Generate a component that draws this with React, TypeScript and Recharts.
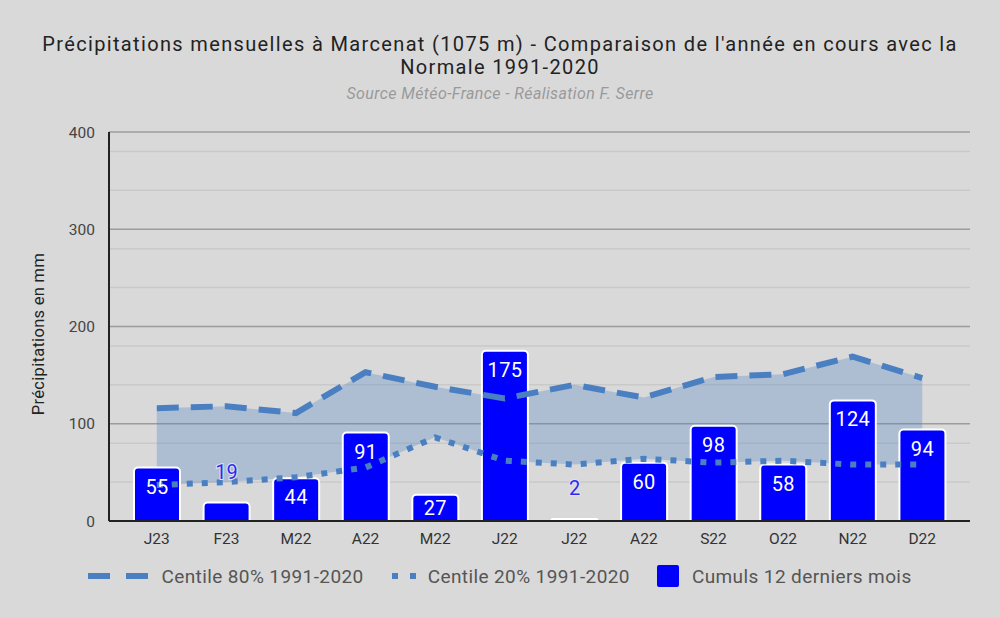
import {
  ComposedChart,
  Area,
  Bar,
  Line,
  XAxis,
  YAxis,
  CartesianGrid,
  LabelList,
} from "recharts";

const months = ["J23", "F23", "M22", "A22", "M22", "J22", "J22", "A22", "S22", "O22", "N22", "D22"];
const cumuls = [55, 19, 44, 91, 27, 175, 2, 60, 98, 58, 124, 94];
const centile80 = [116, 118, 111, 153, 138, 126, 140, 127, 148, 151, 169, 147];
const centile20 = [37, 40, 45, 55, 86, 62, 58, 64, 60, 62, 58, 58];
const majorTicks = [0, 100, 200, 300, 400];
const minorTicks = [20, 40, 60, 80, 120, 140, 160, 180, 220, 240, 260, 280, 320, 340, 360, 380];

const data = months.map((m, i) => ({
  month: m,
  cumul: cumuls[i],
  c80: centile80[i],
  c20: centile20[i],
  band: [centile20[i], centile80[i]],
}));

const FONT = "Roboto, 'Noto Sans', sans-serif";
const LINE_COLOR = "#4a80c2";

// white label inside the bar, or blue above it when the bar is too short
const BarLabel = (props: any) => {
  const { x, y, width, height, value } = props;
  const cx = x + width / 2;
  if (height > 22) {
    return (
      <text x={cx} y={y + Math.min(19, height / 2)} fill="#fff" fontSize={20} fontFamily={FONT} textAnchor="middle" dominantBaseline="central" letterSpacing={0.3}>
        {value}
      </text>
    );
  }
  return (
    <text
      x={cx}
      y={y - 31}
      fill="#2b2bf0"
      stroke="#e2e2ee"
      strokeWidth={2}
      paintOrder="stroke"
      fontSize={20}
      fontFamily={FONT}
      textAnchor="middle"
      dominantBaseline="central"
    >
      {value}
    </text>
  );
};

const titleLine = {
  position: "absolute" as const,
  left: 0,
  width: 1000,
  textAlign: "center" as const,
  fontSize: 20,
  lineHeight: "20px",
  letterSpacing: 1.35,
  color: "#222",
  whiteSpace: "nowrap" as const,
};

const App = () => {
  return (
    <div style={{ position: "absolute", left: 0, top: 0, width: 1000, height: 618, background: "#d9d9d9", fontFamily: FONT }}>
      <div style={{ ...titleLine, top: 34 }}>
        Précipitations mensuelles à Marcenat (1075 m) - Comparaison de l'année en cours avec la
      </div>
      <div style={{ ...titleLine, top: 57 }}>Normale 1991-2020</div>
      <div style={{ position: "absolute", top: 84, left: 0, width: 1000, textAlign: "center", fontSize: 16, letterSpacing: 0.4, fontStyle: "italic", color: "#9a9a9a" }}>
        Source Météo-France - Réalisation F. Serre
      </div>
      <div
        style={{
          position: "absolute",
          left: 38,
          top: 334,
          transform: "translate(-50%, -50%) rotate(-90deg)",
          whiteSpace: "nowrap",
          fontSize: 16.5,
          letterSpacing: 0.3,
          color: "#222",
        }}
      >
        Précipitations en mm
      </div>
      <ComposedChart
        width={1000}
        height={618}
        data={data}
        margin={{ top: 132, right: 30, bottom: 67, left: 50 }}
        style={{ position: "absolute", left: 0, top: 0 }}
      >
        <CartesianGrid vertical={false} stroke="#c9c9c9" strokeWidth={1.5} horizontalValues={minorTicks} />
        <CartesianGrid vertical={false} stroke="#9c9c9c" strokeWidth={1.5} />
        <XAxis
          dataKey="month"
          padding={{ left: 13, right: 13 }}
          axisLine={{ stroke: "#222", strokeWidth: 2 }}
          tickLine={false}
          height={30}
          tick={{ fill: "#333", fontSize: 15.5, fontFamily: FONT }}
          tickMargin={6}
        />
        <YAxis
          domain={[0, 400]}
          ticks={majorTicks}
          width={59}
          axisLine={{ stroke: "#222", strokeWidth: 2 }}
          tickLine={false}
          tick={{ fill: "#444", fontSize: 15.5, fontFamily: FONT }}
          tickMargin={8}
        />
        <Area
          type="linear"
          dataKey="band"
          stroke="none"
          fill={LINE_COLOR}
          fillOpacity={0.3}
          isAnimationActive={false}
        />
        <Bar dataKey="cumul" fill="#0000ff" stroke="#fff" strokeWidth={2} barSize={46} radius={[4, 4, 0, 0]} isAnimationActive={false}>
          <LabelList dataKey="cumul" content={BarLabel} />
        </Bar>
        <Line
          type="linear"
          dataKey="c80"
          stroke={LINE_COLOR}
          strokeWidth={6}
          strokeDasharray="22 12"
          dot={false}
          isAnimationActive={false}
        />
        <Line
          type="linear"
          dataKey="c20"
          stroke={LINE_COLOR}
          strokeWidth={6}
          strokeDasharray="6 9"
          dot={false}
          isAnimationActive={false}
        />
      </ComposedChart>
      <div
        style={{
          position: "absolute",
          top: 564,
          left: 0,
          width: 1000,
          display: "flex",
          justifyContent: "center",
          alignItems: "center",
          fontSize: 19,
          letterSpacing: 0.4,
          color: "#555",
        }}
      >
        <svg width={60} height={12} style={{ marginRight: 13 }}>
          <line x1={0} y1={6} x2={60} y2={6} stroke={LINE_COLOR} strokeWidth={6} strokeDasharray="22 16" />
        </svg>
        <span style={{ marginRight: 28 }}>Centile 80% 1991-2020</span>
        <svg width={24} height={12} style={{ marginRight: 12 }}>
          <line x1={0} y1={6} x2={24} y2={6} stroke={LINE_COLOR} strokeWidth={6} strokeDasharray="6 12" />
        </svg>
        <span style={{ marginRight: 26 }}>Centile 20% 1991-2020</span>
        <svg width={24} height={24} style={{ marginRight: 12 }}>
          <rect x={1} y={1} width={22} height={22} rx={2} fill="#0000ff" />
        </svg>
        <span>Cumuls 12 derniers mois</span>
      </div>
    </div>
  );
};

export default App;
